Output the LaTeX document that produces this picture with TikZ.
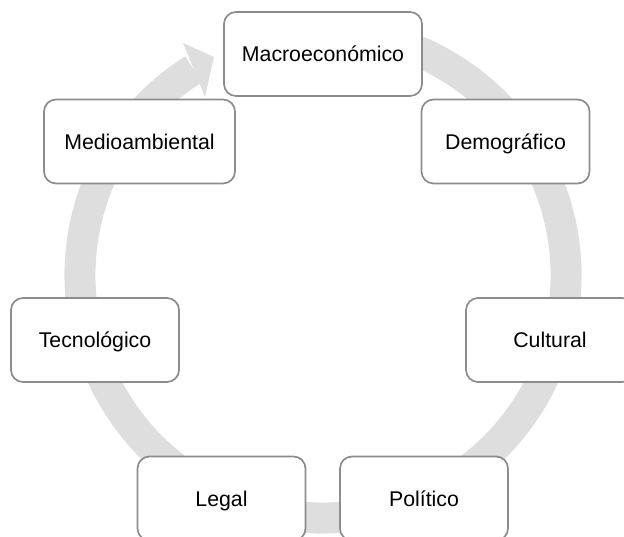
\documentclass[tikz,border=0pt]{standalone}
\usepackage{fontspec}
\setmainfont{Liberation Sans}
\definecolor{ringgray}{RGB}{222,222,222}
\definecolor{boxgray}{RGB}{140,140,140}
\tikzset{
	factor/.style={draw=boxgray, line width=1.2pt, fill=white, rounded corners=0.3cm,
		minimum width=4.2cm, minimum height=2.1cm, inner sep=0pt,
		text height=0.45cm, text depth=0.05cm,
		font=\fontsize{15.15}{18}\selectfont}
}

\begin{document}
\begin{tikzpicture}
			\useasboundingbox (0,0) rectangle (15.6,13.4);
			\clip (0,0) rectangle (15.6,13.4);
			\coordinate (centro) at (8.075,6.525);
			% gray ring with its head
			\draw[color=ringgray, line width=0.775cm] (centro) ++(75:6.075) arc[start angle=75, end angle=-237.8, radius=6.075];
			\fill[fill=ringgray] (4.575,12.325) -- (5.35,11.975) -- (5.125,10.975) -- cycle;
			% the seven boxes
			\node[factor, minimum width=4.95cm] (macro) at (8.075,12.05) {Macroeconómico};
			\node[factor] (demo) at (12.6375,9.8625) {Demográfico};
			\node[factor] (cultural) at (13.75,4.9) {Cultural};
			\node[factor] (politico) at (10.6,0.9375) {Político};
			\node[factor] (legal) at (5.5375,0.9375) {Legal};
			\node[factor] (tecno) at (2.375,4.9) {Tecnológico};
			\node[factor, minimum width=4.775cm] (medio) at (3.4875,9.8625) {Medioambiental};
		\end{tikzpicture}
\end{document}
